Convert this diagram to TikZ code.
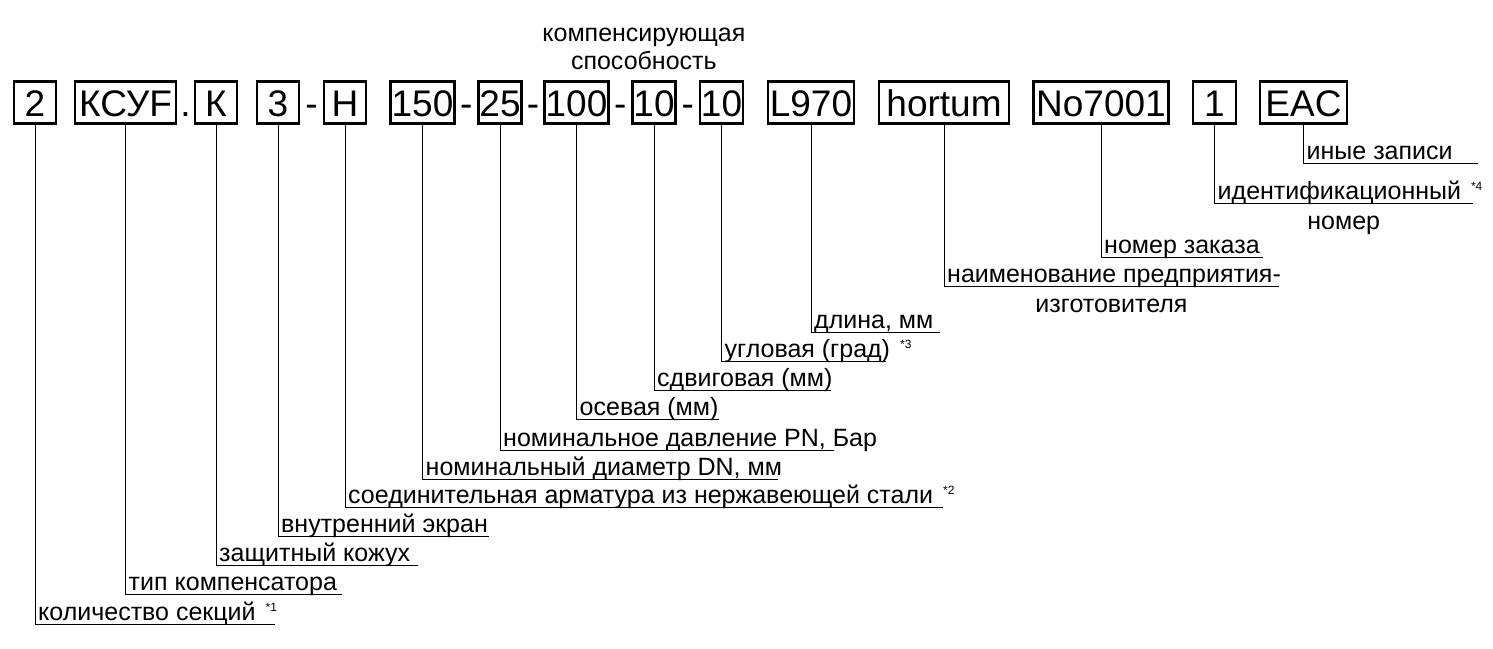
\documentclass[tikz,border=0pt]{standalone}
\usepackage{fontspec}
\setmainfont{Liberation Sans}
\usepackage{tikz}
\usetikzlibrary{calc,positioning}
\tikzset{%
	field/.style  = {draw, rectangle, line width=2.5pt, minimum height=42pt, inner sep=1pt, text height=27pt, text depth=0pt, font=\fontsize{37}{40}\selectfont}, % code field
	sepr/.style   = {anchor=base, inner sep=0pt, font=\fontsize{37}{40}\selectfont}, % separator
	lead/.style   = {line width=1pt}, % leader + underline
	lab/.style    = {anchor=base west, inner sep=0pt, xshift=3pt, yshift=4pt, font=\fontsize{25}{28}\selectfont}, % label
	labtwo/.style = {anchor=base, inner sep=0pt, yshift=-26pt, font=\fontsize{25}{28}\selectfont}, % second line
	head/.style   = {anchor=south, inner sep=0pt, align=center, yshift=10pt, font=\fontsize{25}{28}\selectfont}, % heading
}
\newcommand{\fnote}[1]{\hspace{10pt}\raisebox{9pt}{\fontsize{12}{12}\selectfont *#1}}

\begin{document}
\begin{tikzpicture}[x=1pt,y=-1pt]
	\useasboundingbox (0,0) rectangle (1493,648);
	% code fields
	\node [field, minimum width=42pt] (sec) at (35,102.5) {2};
	\node [field, minimum width=101pt] (typ) at (125.5,102.5) {КСУF};
	\node [field, minimum width=42pt] (kozh) at (216,102.5) {К};
	\node [field, minimum width=42pt] (ekr) at (278,102.5) {3};
	\node [field, minimum width=42pt] (arm) at (345,102.5) {Н};
	\node [field, minimum width=63pt] (dn) at (422.5,102.5) {150};
	\node [field, minimum width=42pt] (pn) at (500,102.5) {25};
	\node [field, minimum width=63pt] (ax) at (576.5,102.5) {100};
	\node [field, minimum width=40pt] (sh) at (654,102.5) {10};
	\node [field, minimum width=43pt] (ang) at (721.5,102.5) {10};
	\node [field, minimum width=86pt] (len) at (811,102.5) {L970};
	\node [field, minimum width=130pt] (firm) at (944,102.5) {hortum};
	\node [field, minimum width=135pt] (ord) at (1101,102.5) {No7001};
	\node [field, minimum width=43pt] (id) at (1214.5,102.5) {1};
	\node [field, minimum width=87pt] (eac) at (1303.5,102.5) {EAC};

	\node [sepr] (s1) at ($(typ.base east)!0.5!(kozh.base west)$) {.};
	\node [sepr] (s2) at ($(ekr.base east)!0.5!(arm.base west)$) {-};
	\node [sepr] (s3) at ($(dn.base east)!0.5!(pn.base west)$) {-};
	\node [sepr] (s4) at ($(pn.base east)!0.5!(ax.base west)$) {-};
	\node [sepr] (s5) at ($(ax.base east)!0.5!(sh.base west)$) {-};
	\node [sepr] (s6) at ($(sh.base east)!0.5!(ang.base west)$) {-};

	\node [head] (comp) at ($(ax.north west)!0.5!(ang.north east)$) {компенсирующая\\способность};

	% ends of the underlines
	\coordinate (sec-e) at (275,624);
	\coordinate (typ-e) at (342,594);
	\coordinate (kozh-e) at (418,565);
	\coordinate (ekr-e) at (489,536);
	\coordinate (arm-e) at (943,507);
	\coordinate (dn-e) at (778,479);
	\coordinate (pn-e) at (834,450);
	\coordinate (ax-e) at (719,419);
	\coordinate (sh-e) at (831,390);
	\coordinate (ang-e) at (886,361);
	\coordinate (len-e) at (940,332);
	\coordinate (firm-e) at (1279,286);
	\coordinate (ord-e) at (1263,257);
	\coordinate (id-e) at (1473,203);
	\coordinate (eac-e) at (1478,163);

	% labels
	\node [lab] (sec-t) at (sec.south |- sec-e) {количество секций\fnote{1}};
	\node [lab] (typ-t) at (typ.south |- typ-e) {тип компенсатора};
	\node [lab] (kozh-t) at (kozh.south |- kozh-e) {защитный кожух};
	\node [lab] (ekr-t) at (ekr.south |- ekr-e) {внутренний экран};
	\node [lab] (arm-t) at (arm.south |- arm-e) {соединительная арматура из нержавеющей стали\fnote{2}};
	\node [lab] (dn-t) at (dn.south |- dn-e) {номинальный диаметр DN, мм};
	\node [lab] (pn-t) at (pn.south |- pn-e) {номинальное давление PN, Бар};
	\node [lab] (ax-t) at (ax.south |- ax-e) {осевая (мм)};
	\node [lab] (sh-t) at (sh.south |- sh-e) {сдвиговая (мм)};
	\node [lab] (ang-t) at (ang.south |- ang-e) {угловая (град)\fnote{3}};
	\node [lab] (len-t) at (len.south |- len-e) {длина, мм};
	\node [lab] (firm-t) at (firm.south |- firm-e) {наименование предприятия-};
	\node [labtwo] (firm-t2) at ($(firm.south |- firm-e)!0.5!(firm-e)$) {изготовителя};
	\node [lab] (ord-t) at (ord.south |- ord-e) {номер заказа};
	\node [lab] (id-t) at (id.south |- id-e) {идентификационный\fnote{4}};
	\node [labtwo] (id-t2) at ($(id.south |- id-e)!0.5!(id-e)$) {номер};
	\node [lab] (eac-t) at (eac.south |- eac-e) {иные записи};

	\draw[lead] (sec.south) |- (sec-e);
	\draw[lead] (typ.south) |- (typ-e);
	\draw[lead] (kozh.south) |- (kozh-e);
	\draw[lead] (ekr.south) |- (ekr-e);
	\draw[lead] (arm.south) |- (arm-e);
	\draw[lead] (dn.south) |- (dn-e);
	\draw[lead] (pn.south) |- (pn-e);
	\draw[lead] (ax.south) |- (ax-e);
	\draw[lead] (sh.south) |- (sh-e);
	\draw[lead] (ang.south) |- (ang-e);
	\draw[lead] (len.south) |- (len-e);
	\draw[lead] (firm.south) |- (firm-e);
	\draw[lead] (ord.south) |- (ord-e);
	\draw[lead] (id.south) |- (id-e);
	\draw[lead] (eac.south) |- (eac-e);
\end{tikzpicture}
\end{document}
